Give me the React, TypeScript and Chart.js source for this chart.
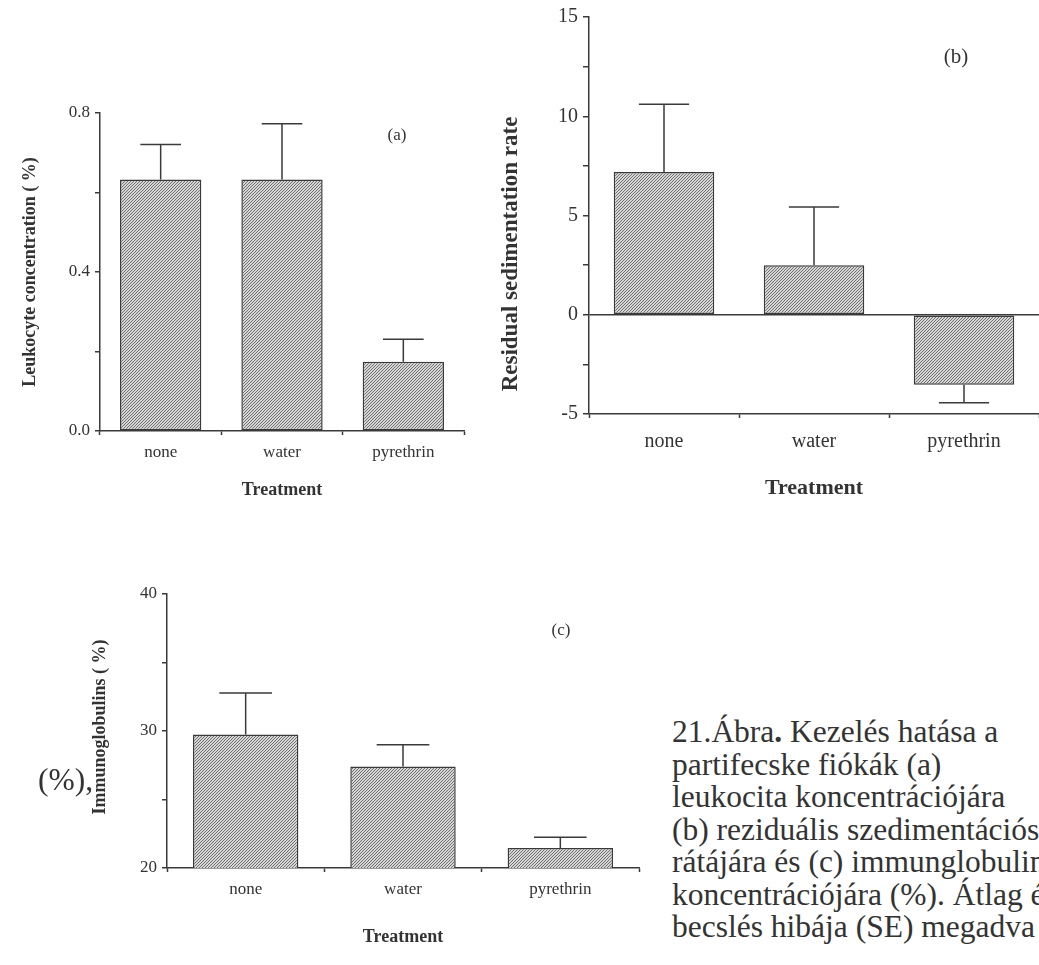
import React, { useEffect, useRef } from 'react';
import { Chart, registerables } from 'chart.js';

Chart.register(...registerables);

// ---------- data ----------
const categories = ['none', 'water', 'pyrethrin'];

const leukocyteMeans = [0.633, 0.633, 0.174];
const leukocyteSE = [0.088, 0.14, 0.057];
const leukocyteMajorTicks = [0, 0.4, 0.8];

const sedimentationMeans = [7.19, 2.5, -3.53];
const sedimentationSE = [3.41, 2.93, 0.9];
const sedimentationMajorTicks = [-5, 0, 5, 10, 15];

const immunoMeans = [29.74, 27.41, 21.46];
const immunoSE = [3.03, 1.58, 0.78];
const immunoMajorTicks = [20, 30, 40];

const captionLines = [
  'partifecske fiókák (a)',
  'leukocita koncentrációjára',
  '(b) reziduális szedimentációs',
  'rátájára és (c) immunglobulin',
  'koncentrációjára (%). Átlag és',
  'becslés hibája (SE) megadva',
];

// ---------- styles ----------
const FONT = '"Liberation Serif", "Times New Roman", Times, serif';
const AXIS = '#3a3a3a';
const TEXT = '#333333';

const errorBarPlugin = {
  id: 'errorBars',
  afterDatasetsDraw(chart: any, _args: any, opts: any) {
    const { ctx } = chart;
    const meta = chart.getDatasetMeta(0);
    const yScale = chart.scales.y;
    const data = chart.data.datasets[0].data as number[];
    ctx.save();
    ctx.strokeStyle = opts.color;
    ctx.lineWidth = opts.lineWidth;
    meta.data.forEach((bar: any, i: number) => {
      const v = data[i];
      const e = opts.errors[i];
      const end = v >= 0 ? v + e : v - e;
      const y0 = yScale.getPixelForValue(v);
      const y1 = yScale.getPixelForValue(end);
      const hw = (bar.width * opts.capRatio) / 2;
      ctx.beginPath();
      ctx.moveTo(bar.x, y0);
      ctx.lineTo(bar.x, y1);
      ctx.moveTo(bar.x - hw, y1);
      ctx.lineTo(bar.x + hw, y1);
      ctx.stroke();
    });
    ctx.restore();
  },
};

const yTitlePlugin = {
  id: 'yTitle',
  afterDraw(chart: any, _args: any, opts: any) {
    const { ctx } = chart;
    ctx.save();
    ctx.translate(opts.x, opts.y);
    ctx.rotate(-Math.PI / 2);
    ctx.font = `bold ${opts.size}px ${FONT}`;
    ctx.fillStyle = TEXT;
    ctx.textAlign = 'center';
    ctx.textBaseline = 'middle';
    ctx.fillText(opts.text, 0, 0);
    ctx.restore();
  },
};

type Box = { left: number; top: number; width: number; height: number };
type Area = { left: number; top: number; right: number; bottom: number };
type Panel = {
  canvas: Box;
  area: Area;
  values: number[];
  se: number[];
  min: number;
  max: number;
  step: number;
  major: number[];
  decimals: number;
  tickFont: number;
  titleFont: number;
  yTitle: string;
  yTitleFont: number;
  yTitleX: number;
  yTitleY: number;
  xTitleY: number;
  xLabelY: number;
  yTickLen: number;
  yLabelPad: number;
  zeroLine: boolean;
};

const panelA: Panel = {
  canvas: { left: 0, top: 90, width: 480, height: 420 },
  area: { left: 100, top: 113, right: 464, bottom: 431 },
  values: leukocyteMeans,
  se: leukocyteSE,
  min: 0,
  max: 0.8,
  step: 0.2,
  major: leukocyteMajorTicks,
  decimals: 1,
  tickFont: 17,
  titleFont: 18,
  yTitle: 'Leukocyte concentration ( %)',
  yTitleFont: 18,
  yTitleX: 30,
  yTitleY: 272,
  xTitleY: 490,
  xLabelY: 453,
  yTickLen: 5,
  yLabelPad: 5,
  zeroLine: false,
};

const panelB: Panel = {
  canvas: { left: 470, top: 0, width: 569, height: 510 },
  area: { left: 589, top: 17, right: 1039, bottom: 414 },
  values: sedimentationMeans,
  se: sedimentationSE,
  min: -5,
  max: 15,
  step: 2.5,
  major: sedimentationMajorTicks,
  decimals: 0,
  tickFont: 20,
  titleFont: 22,
  yTitle: 'Residual sedimentation rate',
  yTitleFont: 23,
  yTitleX: 511,
  yTitleY: 254,
  xTitleY: 488,
  xLabelY: 442,
  yTickLen: 6,
  yLabelPad: 5,
  zeroLine: true,
};

const panelC: Panel = {
  canvas: { left: 0, top: 560, width: 660, height: 405 },
  area: { left: 167, top: 594, right: 639, bottom: 868 },
  values: immunoMeans,
  se: immunoSE,
  min: 20,
  max: 40,
  step: 5,
  major: immunoMajorTicks,
  decimals: 0,
  tickFont: 17,
  titleFont: 18,
  yTitle: 'Immunoglobulins ( %)',
  yTitleFont: 18,
  yTitleX: 100,
  yTitleY: 727,
  xTitleY: 937,
  xLabelY: 890,
  yTickLen: 5,
  yLabelPad: 5,
  zeroLine: false,
};

function makePattern(canvas: HTMLCanvasElement) {
  const tile = document.createElement('canvas');
  tile.width = 3;
  tile.height = 3;
  const g = tile.getContext('2d')!;
  g.fillStyle = '#d6d6d6';
  g.fillRect(0, 0, 3, 3);
  g.fillStyle = '#707070';
  for (let i = 0; i < 3; i++) g.fillRect(2 - i, i, 1, 1);
  return canvas.getContext('2d')!.createPattern(tile, 'repeat');
}

function buildChart(canvas: HTMLCanvasElement, p: Panel) {
  const padTop = p.area.top - p.canvas.top;
  const padRight = p.canvas.left + p.canvas.width - p.area.right;
  const yAxisWidth = p.area.left - p.canvas.left;
  const xAxisHeight = p.canvas.top + p.canvas.height - p.area.bottom;
  const tickLH = p.tickFont * 1.2;
  const titleLH = p.titleFont * 1.2;
  const xTickLen = 4;
  const xLabelPad = p.xLabelY - p.area.bottom - xTickLen - tickLH / 2;
  const xTitlePad = p.canvas.top + p.canvas.height - p.xTitleY - titleLH / 2;
  const pattern = makePattern(canvas);

  return new Chart(canvas, {
    type: 'bar',
    data: {
      labels: categories,
      datasets: [
        {
          data: p.values,
          backgroundColor: pattern as any,
          borderColor: AXIS,
          borderWidth: 1.5,
          borderSkipped: false,
          barPercentage: 0.67,
          categoryPercentage: 1,
        },
      ],
    },
    options: {
      responsive: false,
      animation: false,
      events: [],
      layout: { padding: { top: padTop, right: padRight, left: 0, bottom: 0 } },
      plugins: {
        legend: { display: false },
        tooltip: { enabled: false },
        errorBars: { errors: p.se, color: AXIS, lineWidth: 1.5, capRatio: 0.5 },
        yTitle: {
          text: p.yTitle,
          size: p.yTitleFont,
          x: p.yTitleX - p.canvas.left,
          y: p.yTitleY - p.canvas.top,
        },
      } as any,
      scales: {
        x: {
          type: 'category',
          offset: true,
          grid: {
            offset: true,
            drawOnChartArea: false,
            drawTicks: true,
            tickLength: xTickLen,
            tickColor: AXIS,
            tickWidth: 1.5,
          },
          border: { display: true, color: AXIS, width: 1.5 },
          ticks: {
            font: { family: FONT, size: p.tickFont },
            color: TEXT,
            padding: xLabelPad,
            maxRotation: 0,
            autoSkip: false,
          },
          title: {
            display: true,
            text: 'Treatment',
            font: { family: FONT, size: p.titleFont, weight: 'bold' },
            color: TEXT,
            padding: { top: 0, bottom: xTitlePad },
          },
          afterFit: (s: any) => {
            s.height = xAxisHeight;
          },
        },
        y: {
          type: 'linear',
          min: p.min,
          max: p.max,
          grid: {
            drawOnChartArea: p.zeroLine,
            color: (ctx: any) =>
              p.zeroLine && ctx.tick && Math.abs(ctx.tick.value) < 1e-9 ? AXIS : 'rgba(0,0,0,0)',
            lineWidth: 1.5,
            drawTicks: true,
            tickLength: p.yTickLen,
            tickColor: AXIS,
            tickWidth: 1.5,
          },
          border: { display: true, color: AXIS, width: 1.5 },
          ticks: {
            stepSize: p.step,
            autoSkip: false,
            font: { family: FONT, size: p.tickFont },
            color: TEXT,
            padding: p.yLabelPad,
            callback: (v: any) => {
              const n = Number(v);
              return p.major.some((m) => Math.abs(m - n) < 1e-9) ? n.toFixed(p.decimals) : '';
            },
          },
          title: { display: false },
          afterFit: (s: any) => {
            s.width = yAxisWidth;
          },
        },
      } as any,
    },
    plugins: [errorBarPlugin, yTitlePlugin],
  });
}

function ChartPanel({ panel }: { panel: Panel }) {
  const ref = useRef<HTMLCanvasElement | null>(null);
  useEffect(() => {
    if (!ref.current) return;
    const chart = buildChart(ref.current, panel);
    return () => chart.destroy();
  }, [panel]);
  return (
    <canvas
      ref={ref}
      width={panel.canvas.width}
      height={panel.canvas.height}
      style={{
        position: 'absolute',
        left: panel.canvas.left,
        top: panel.canvas.top,
        width: panel.canvas.width,
        height: panel.canvas.height,
      }}
    />
  );
}

function Label({ x, y, size, children }: { x: number; y: number; size: number; children: React.ReactNode }) {
  return (
    <div
      style={{
        position: 'absolute',
        left: x,
        top: y,
        transform: 'translate(-50%, -50%)',
        fontFamily: FONT,
        fontSize: size,
        lineHeight: 1,
        color: TEXT,
        whiteSpace: 'nowrap',
      }}
    >
      {children}
    </div>
  );
}

export default function App() {
  return (
    <div
      style={{
        position: 'absolute',
        left: 0,
        top: 0,
        width: 1039,
        height: 965,
        overflow: 'hidden',
        background: '#ffffff',
      }}
    >
      <ChartPanel panel={panelA} />
      <ChartPanel panel={panelB} />
      <ChartPanel panel={panelC} />
      <Label x={397} y={134} size={17}>(a)</Label>
      <Label x={956} y={56} size={21}>(b)</Label>
      <Label x={561} y={629} size={17}>(c)</Label>
      <div
        style={{
          position: 'absolute',
          left: 38,
          top: 763,
          fontFamily: FONT,
          fontSize: 31.5,
          lineHeight: '34px',
          color: TEXT,
          whiteSpace: 'nowrap',
        }}
      >
        (%),
      </div>
      <div
        style={{
          position: 'absolute',
          left: 672,
          top: 716,
          fontFamily: FONT,
          fontSize: 31.5,
          lineHeight: '32.5px',
          color: TEXT,
          whiteSpace: 'nowrap',
        }}
      >
        <div>
          21.Ábra<b>.</b> Kezelés hatása a
        </div>
        {captionLines.map((l, i) => (
          <div key={i}>{l}</div>
        ))}
      </div>
    </div>
  );
}
